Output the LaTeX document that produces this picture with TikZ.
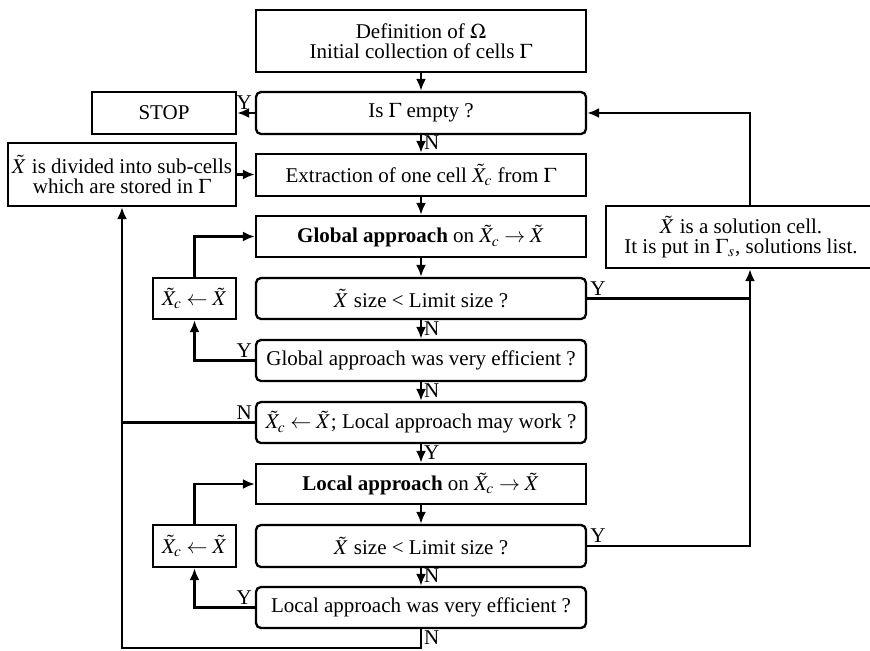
\documentclass[tikz,border=0pt]{standalone}
\usepackage{mathptmx}
\usepackage[no-math]{fontspec}
\setmainfont{Liberation Serif}
\usetikzlibrary{arrows.meta}

\tikzset{
	box/.style={draw, rectangle, align=center, minimum width=165pt, minimum height=20.5pt, inner sep=1pt},
	test/.style={box, rounded corners=2.5pt},
	flow/.style={-{Latex[length=6pt,width=5pt]}},
	lbl/.style={inner sep=1pt}
}

\begin{document}
\begin{tikzpicture}[x=0.5pt, y=-0.5pt, line width=1.15pt, font=\fontsize{10.5}{10}\selectfont]
\useasboundingbox (0,0) rectangle (870,650);

% main column
\node[box, minimum height=31pt] (defn) at (421,41) {Definition of $\Omega$\\Initial collection of cells $\Gamma$};
\node[test, minimum height=21pt] (empty) at (421,113) {Is $\Gamma$ empty ?};
\node[box, minimum height=21pt] (extract) at (421,175) {Extraction of one cell $\tilde{X}_c$ from $\Gamma$};
\node[box] (glob) at (421,236.5) {\textbf{Global approach} on $\tilde{X}_c \rightarrow \tilde{X}$};
\node[test] (size1) at (421,298.5) {$\tilde{X}$ size < Limit size ?};
\node[test] (geff) at (421,360.5) {Global approach was very efficient ?};
\node[test] (lmay) at (421,422.5) {$\tilde{X}_c \leftarrow \tilde{X}$; Local approach may work ?};
\node[box, minimum height=20pt] (loc) at (421,484) {\textbf{Local approach} on $\tilde{X}_c \rightarrow \tilde{X}$};
\node[test, minimum height=21pt] (size2) at (421,546) {$\tilde{X}$ size < Limit size ?};
\node[test] (leff) at (421,607.5) {Local approach was very efficient ?};

% side boxes
\node[box, minimum width=72pt, minimum height=21pt] (stop) at (164,113) {STOP};
\node[box, minimum width=114pt, minimum height=31.5pt] (divide) at (122,174.5) {$\tilde{X}$ is divided into sub-cells\\which are stored in $\Gamma$};
\node[box, minimum width=41.5pt] (upd1) at (194.5,298.5) {$\tilde{X}_c \leftarrow \tilde{X}$};
\node[box, minimum width=41.5pt, minimum height=21pt] (upd2) at (194.5,546) {$\tilde{X}_c \leftarrow \tilde{X}$};
\node[box, minimum width=135pt, minimum height=31pt] (sol) at (741,237) {$\tilde{X}$ is a solution cell.\\It is put in $\Gamma_s$, solutions list.};

\coordinate (solx) at (750,0);
\coordinate (bot) at (421,648);

% connectors
\draw[flow] (defn) -- (empty);
\draw[flow] (empty.west) -- (stop.east) node[lbl, pos=0, anchor=south east] {Y};
\draw[flow] (empty) -- (extract) node[lbl, at end, anchor=south west] {N};
\draw[flow] (divide.east) -- (extract.west |- divide.east);
\draw[flow] (extract) -- (glob);
\draw[flow] (glob) -- (size1);
\draw[flow] (size1) -- (geff) node[lbl, at end, anchor=south west] {N};
\draw[flow] (geff) -- (lmay) node[lbl, at end, anchor=south west] {N};
\draw[flow] (lmay) -- (loc) node[lbl, at end, anchor=south west] {Y};
\draw[flow] (loc) -- (size2);
\draw[flow] (size2) -- (leff) node[lbl, at end, anchor=south west] {N};

% global loop
\draw[flow] (geff.west) -| (upd1) node[lbl, pos=0, anchor=south east] {Y};
\draw[flow] (upd1) |- (glob.west);
% local loop
\draw[flow] (leff.west) -| (upd2) node[lbl, pos=0, anchor=south east] {Y};
\draw[flow] (upd2) |- (loc.west);

% back to division
\draw[flow] (leff) -- (bot) node[lbl, at end, anchor=south west] {N} -| (divide);
\draw (lmay.west) -- (lmay.west -| divide.south) node[lbl, pos=0, anchor=south east] {N};

% solution branch
\draw (size1.east) -- (size1.east -| solx) node[lbl, pos=0, anchor=south west] {Y};
\draw[flow] (size2.east) -| (solx |- sol.south) node[lbl, pos=0, anchor=south west] {Y};
\draw[flow] (solx |- sol.north) |- (empty.east);
\end{tikzpicture}
\end{document}
